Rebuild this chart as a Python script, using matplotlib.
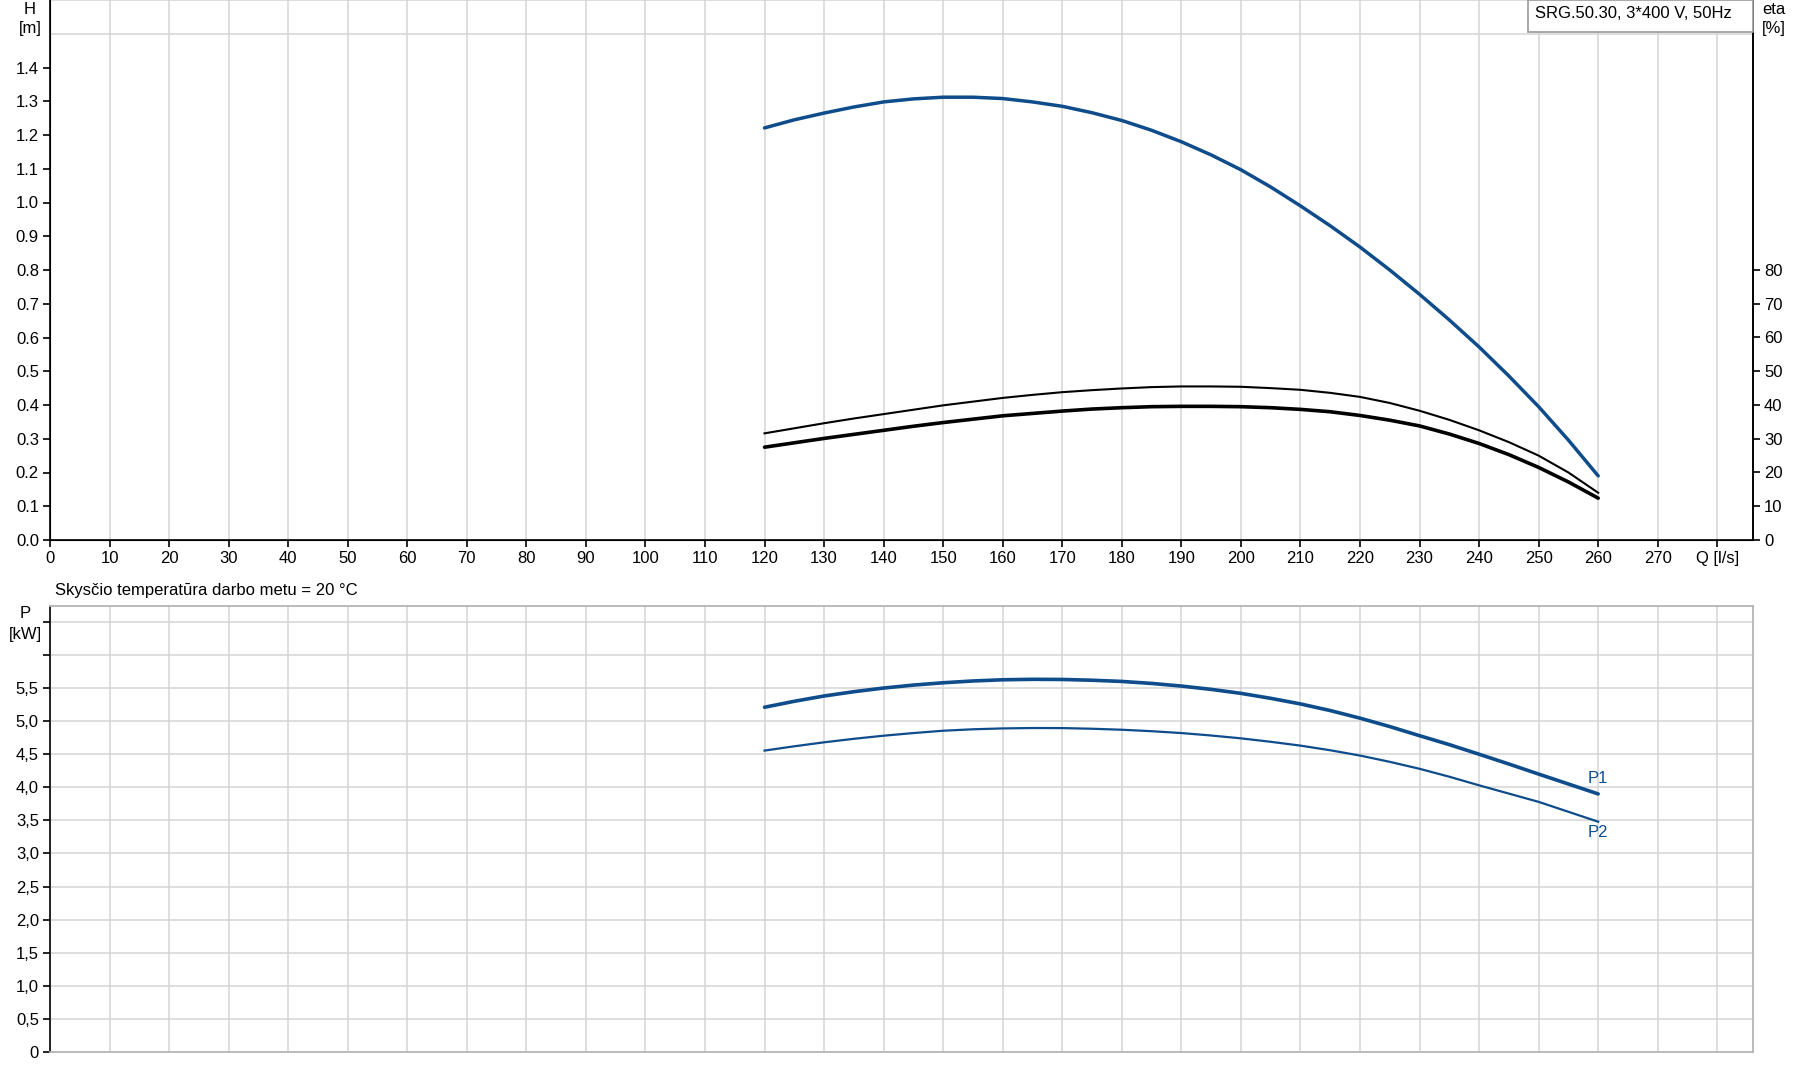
import matplotlib
matplotlib.use("Agg")
import matplotlib.pyplot as plt

plt.rcParams['font.family'] = ['Liberation Sans', 'DejaVu Sans']

W, H = 1795, 1081

# Flow points, l/s
q = [120, 125, 130, 135, 140, 145, 150, 155, 160, 165, 170, 175, 180, 185, 190,
     195, 200, 205, 210, 215, 220, 225, 230, 235, 240, 245, 250, 255, 260]

# Head, m
head = [1.221, 1.245, 1.265, 1.283, 1.298, 1.307, 1.312, 1.312, 1.308, 1.298,
        1.285, 1.266, 1.243, 1.214, 1.180, 1.141, 1.097, 1.046, 0.990, 0.931,
        0.868, 0.800, 0.728, 0.652, 0.572, 0.486, 0.395, 0.296, 0.190]

# Efficiencies, %
eta_thin = [31.6, 33.1, 34.6, 36.0, 37.3, 38.6, 39.9, 41.0, 42.1, 43.0,
            43.8, 44.4, 44.9, 45.3, 45.5, 45.5, 45.4, 45.0, 44.5, 43.6,
            42.4, 40.6, 38.3, 35.6, 32.5, 29.0, 25.0, 20.0, 14.0]
eta_thick = [27.5, 28.8, 30.1, 31.3, 32.5, 33.7, 34.8, 35.8, 36.8, 37.5,
             38.2, 38.8, 39.2, 39.5, 39.6, 39.6, 39.5, 39.2, 38.7, 38.0,
             36.9, 35.5, 33.8, 31.4, 28.6, 25.3, 21.5, 17.2, 12.4]

# Power, kW
p1 = [5.21, 5.30, 5.38, 5.445, 5.50, 5.545, 5.58, 5.607, 5.625, 5.632,
      5.63, 5.618, 5.60, 5.57, 5.53, 5.48, 5.42, 5.345, 5.26, 5.16,
      5.045, 4.918, 4.78, 4.645, 4.50, 4.352, 4.20, 4.05, 3.90]
p2 = [4.555, 4.62, 4.68, 4.733, 4.78, 4.82, 4.855, 4.877, 4.89, 4.896,
      4.895, 4.885, 4.87, 4.848, 4.82, 4.783, 4.74, 4.688, 4.63, 4.56,
      4.48, 4.385, 4.28, 4.16, 4.03, 3.905, 3.78, 3.63, 3.48]

x_ticks = list(range(0, 290, 10))
x_labels = [str(v) for v in range(0, 280, 10)] + ['Q [l/s]']
h_ticks = [i / 10 for i in range(0, 15)]
eta_ticks = list(range(0, 90, 10))
p_ticks = [i * 0.5 for i in range(0, 14)]
p_labels = ['0'] + [f"{v:.1f}".replace('.', ',') for v in p_ticks[1:12]] + ['', '']

BLUE = '#0e4c8b'
GRID = '#d4d4d4'
FS = 12

fig = plt.figure(figsize=(W / 100, H / 100), dpi=100)

# ---- top chart: head and efficiency
ax = fig.add_axes([50 / W, 1 - 540 / H, 1703 / W, 540 / H])
ax.set_xlim(0, 286)
ax.set_ylim(0, 1.6)
ax.set_xticks(x_ticks)
ax.set_xticklabels(x_labels, fontsize=FS)
ax.set_yticks(h_ticks)
ax.set_yticklabels([f"{v:.1f}" for v in h_ticks], fontsize=FS)
ax.set_yticks([i / 10 for i in range(0, 17)], minor=True)
ax.grid(True, which='major', axis='x', color=GRID, lw=1.1)
ax.grid(True, which='minor', axis='y', color=GRID, lw=1.1)
ax.tick_params(axis='y', which='minor', length=0)
ax.tick_params(axis='both', which='major', length=5, width=1.2, color='black', pad=3)
ax.spines['top'].set_visible(False)
for s in ['left', 'bottom', 'right']:
    ax.spines[s].set_linewidth(1.2)
ax.set_axisbelow(True)
ax.plot(q, head, color=BLUE, lw=2.5, solid_capstyle='round', zorder=3)

ax2 = ax.twinx()
ax2.set_ylim(0, 160)
ax2.set_yticks(eta_ticks)
ax2.set_yticklabels([str(v) for v in eta_ticks], fontsize=FS)
ax2.tick_params(axis='y', length=5, width=1.2, pad=3)
ax2.spines['top'].set_visible(False)
ax2.spines['right'].set_linewidth(1.2)
ax2.plot(q, eta_thin, color='black', lw=1.5, zorder=3)
ax2.plot(q, eta_thick, color='black', lw=2.6, solid_capstyle='round', zorder=3)

# model box
box = plt.Rectangle(((1528 - 50) / 1703, 1 - 32 / 540), 225 / 1703, 32 / 540,
                    transform=ax2.transAxes, facecolor='white', edgecolor='#999999',
                    lw=1.2, zorder=4, clip_on=False)
ax2.add_patch(box)
ax2.text((1535 - 50) / 1703, 1 - 14 / 540, 'SRG.50.30, 3*400 V, 50Hz', transform=ax2.transAxes,
         fontsize=FS, va='center', ha='left', zorder=5)

fig.text(30 / W, 1 - 9 / H, 'H', fontsize=FS, ha='center', va='center')
fig.text(30 / W, 1 - 29 / H, '[m]', fontsize=FS, ha='center', va='center')
fig.text(1774 / W, 1 - 9 / H, 'eta', fontsize=FS, ha='center', va='center')
fig.text(1774 / W, 1 - 29 / H, '[%]', fontsize=FS, ha='center', va='center')
fig.text(55 / W, 1 - 590 / H, 'Skysčio temperatūra darbo metu = 20 °C', fontsize=FS,
         ha='left', va='center')

# ---- bottom chart: power
bx = fig.add_axes([50 / W, 1 - 1052 / H, 1703 / W, 446 / H])
bx.set_xlim(0, 286)
bx.set_ylim(0, 6.74)
bx.set_xticks(x_ticks)
bx.set_xticklabels([])
bx.tick_params(axis='x', length=0)
bx.set_yticks(p_ticks)
bx.set_yticklabels(p_labels, fontsize=FS)
bx.tick_params(axis='y', length=5, width=1.2, color='black', pad=3)
bx.grid(True, color=GRID, lw=1.1)
bx.set_axisbelow(True)
bx.spines['left'].set_linewidth(1.2)
for s in ['top', 'bottom', 'right']:
    bx.spines[s].set_color('#b5b5b5')
    bx.spines[s].set_linewidth(1.3)
bx.plot(q, p1, color=BLUE, lw=2.6, solid_capstyle='round')
bx.plot(q, p2, color=BLUE, lw=1.6)
bx.annotate('P1', (q[-1], p1[-1]), xytext=(0, 11), textcoords='offset points',
            color=BLUE, fontsize=FS, ha='center', va='center')
bx.annotate('P2', (q[-1], p2[-1]), xytext=(0, -8), textcoords='offset points',
            color=BLUE, fontsize=FS, ha='center', va='center')

fig.text(25 / W, 1 - 614 / H, 'P', fontsize=FS, ha='center', va='center')
fig.text(25 / W, 1 - 634 / H, '[kW]', fontsize=FS, ha='center', va='center')

fig.savefig('out.png', dpi=100)
